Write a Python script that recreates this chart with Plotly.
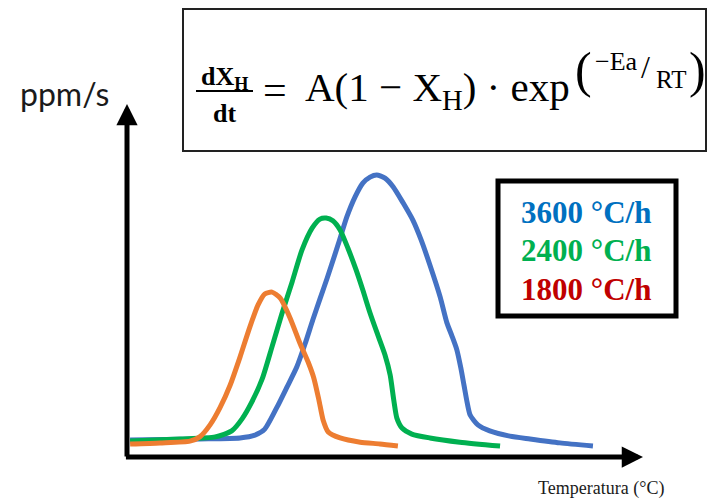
import plotly.graph_objects as go

# Data (arbitrary units: temperature 0-100 along x, ppm/s 0-100 along y)
x_3600 = [0.6, 14.1, 21.9, 24.8, 26.7, 29.1, 31.0, 32.9, 34.5, 36.0, 37.4, 38.8, 40.9, 42.6, 44.2,
          45.7, 47.1, 48.4, 50.0, 51.6, 53.5, 55.4, 57.0, 58.7, 60.7, 62.0, 63.0, 63.9, 64.7, 65.3,
          65.9, 66.5, 68.0, 70.3, 74.2, 78.1, 83.9, 90.3]
y_3600 = [4.8, 5.1, 5.4, 6.2, 7.9, 14.2, 19.8, 25.5, 32.0, 38.8, 44.8, 50.7, 60.1, 68.0, 73.7,
          77.6, 79.3, 79.9, 79.0, 76.5, 72.0, 67.1, 61.5, 54.4, 45.3, 38.0, 34.2, 30.5, 25.2, 20.4,
          15.6, 11.9, 9.1, 7.4, 5.9, 5.1, 4.0, 3.1]

x_2400 = [0.6, 10.3, 17.1, 20.3, 22.3, 24.2, 26.2, 28.1, 30.0, 32.0, 33.9, 35.9, 37.4, 38.6, 39.9,
          41.3, 42.8, 44.4, 45.7, 47.1, 48.6, 50.0, 51.0, 51.7, 52.3, 53.3, 55.2, 58.7, 64.5, 72.3]
y_2400 = [4.5, 5.1, 5.7, 7.4, 10.8, 15.6, 22.1, 31.2, 40.5, 49.6, 58.6, 64.9, 67.4, 67.7, 66.9,
          64.3, 59.2, 53.0, 47.3, 40.8, 34.6, 28.9, 23.2, 16.1, 11.0, 8.2, 6.5, 5.4, 4.2, 3.1]

x_1800 = [0.6, 6.4, 12.2, 14.1, 16.1, 18.0, 20.0, 21.9, 23.8, 25.4, 26.7, 28.1, 29.7, 31.6, 33.5,
          35.1, 36.2, 37.2, 38.0, 39.0, 41.3, 45.2, 49.0, 52.5]
y_1800 = [3.7, 4.0, 4.5, 5.7, 9.1, 13.9, 20.4, 28.3, 36.8, 43.1, 46.2, 46.7, 45.0, 39.4, 32.3,
          26.9, 22.4, 16.1, 10.5, 7.1, 5.4, 4.2, 3.7, 3.1]

series_labels = ["3600 °C/h", "2400 °C/h", "1800 °C/h"]
line_colors = ["#4472C4", "#00B050", "#ED7D31"]
label_colors = ["#0070C0", "#00B050", "#C00000"]

W, H = 712, 499
L, R, T, B = 127, 643, 104, 457


def px(x):
    return (x - L) / (R - L)


def py(y):
    return (B - y) / (B - T)


fig = go.Figure()
for xs, ys, c, name in [(x_3600, y_3600, line_colors[0], series_labels[0]),
                        (x_2400, y_2400, line_colors[1], series_labels[1]),
                        (x_1800, y_1800, line_colors[2], series_labels[2])]:
    fig.add_trace(go.Scatter(x=xs, y=ys, mode="lines", name=name,
                             line=dict(color=c, width=5, shape="spline", smoothing=0.6)))

ann = []
# axes arrows
ann.append(dict(x=100, y=0, ax=-0.5, ay=0, xref="x", yref="y", axref="x", ayref="y", text="",
                showarrow=True, arrowhead=2, arrowsize=0.85, arrowwidth=5, arrowcolor="black", standoff=0))
ann.append(dict(x=0, y=100, ax=0, ay=-0.3, xref="x", yref="y", axref="x", ayref="y", text="",
                showarrow=True, arrowhead=2, arrowsize=0.85, arrowwidth=5, arrowcolor="black", standoff=0))

# axis titles
ann.append(dict(x=px(64), y=py(93), xref="paper", yref="paper", text="ppm/s", showarrow=False,
                font=dict(family="Lato", size=32, color="#1a1a1a"), xanchor="center", yanchor="middle"))
ann.append(dict(x=px(601), y=py(488), xref="paper", yref="paper", text="Temperatura (°C)", showarrow=False,
                font=dict(family="Liberation Serif", size=18, color="#1a1a1a"), xanchor="center", yanchor="middle"))

# legend box text
for lab, col, yc in zip(series_labels, label_colors, [212, 250, 289]):
    ann.append(dict(x=px(586), y=py(yc), xref="paper", yref="paper", text="<b>" + lab + "</b>",
                    showarrow=False, font=dict(family="Liberation Serif", size=31, color=col),
                    xanchor="center", yanchor="middle"))

serif = "Liberation Serif"
# formula
ann.append(dict(x=px(224), y=py(78), xref="paper", yref="paper", text="<b>dX<sub>H</sub></b>",
                showarrow=False, font=dict(family=serif, size=26, color="black"), xanchor="center", yanchor="middle"))
ann.append(dict(x=px(224), y=py(114), xref="paper", yref="paper", text="<b>dt</b>",
                showarrow=False, font=dict(family=serif, size=26, color="black"), xanchor="center", yanchor="middle"))
ann.append(dict(x=px(275), y=py(90), xref="paper", yref="paper", text="=",
                showarrow=False, font=dict(family=serif, size=42, color="black"), xanchor="center", yanchor="middle"))
ann.append(dict(x=px(303), y=py(90), xref="paper", yref="paper", text="A(1 − X<sub>H</sub>) · exp",
                showarrow=False, font=dict(family=serif, size=41, color="black"), xanchor="left", yanchor="middle"))
ann.append(dict(x=px(583), y=py(70), xref="paper", yref="paper", text="(",
                showarrow=False, font=dict(family=serif, size=50, color="black"), xanchor="center", yanchor="middle"))
ann.append(dict(x=px(616), y=py(62), xref="paper", yref="paper", text="−Ea",
                showarrow=False, font=dict(family=serif, size=26, color="black"), xanchor="center", yanchor="middle"))
ann.append(dict(x=px(645), y=py(67), xref="paper", yref="paper", text="/",
                showarrow=False, font=dict(family=serif, size=32, color="black"), xanchor="center", yanchor="middle"))
ann.append(dict(x=px(671), y=py(80), xref="paper", yref="paper", text="RT",
                showarrow=False, font=dict(family=serif, size=25, color="black"), xanchor="center", yanchor="middle"))
ann.append(dict(x=px(697), y=py(70), xref="paper", yref="paper", text=")",
                showarrow=False, font=dict(family=serif, size=50, color="black"), xanchor="center", yanchor="middle"))

shapes = [
    dict(type="rect", xref="paper", yref="paper", x0=px(183), x1=px(706), y0=py(151), y1=py(9),
         line=dict(color="#222222", width=2), fillcolor="white", layer="below"),
    dict(type="line", xref="paper", yref="paper", x0=px(196), x1=px(253), y0=py(91), y1=py(91),
         line=dict(color="black", width=2)),
    dict(type="rect", xref="paper", yref="paper", x0=px(498), x1=px(676), y0=py(316), y1=py(181),
         line=dict(color="black", width=5), fillcolor="white", layer="below"),
]

fig.update_layout(
    width=W, height=H,
    margin=dict(l=L, r=W - R, t=T, b=H - B, pad=0),
    paper_bgcolor="white", plot_bgcolor="white",
    showlegend=False,
    xaxis=dict(range=[0, 100], visible=False, fixedrange=True),
    yaxis=dict(range=[0, 100], visible=False, fixedrange=True),
    annotations=ann, shapes=shapes,
)

fig.write_html("out.html", config={"displayModeBar": False},
               post_script="document.body.style.margin='0';document.body.style.overflow='hidden';")
